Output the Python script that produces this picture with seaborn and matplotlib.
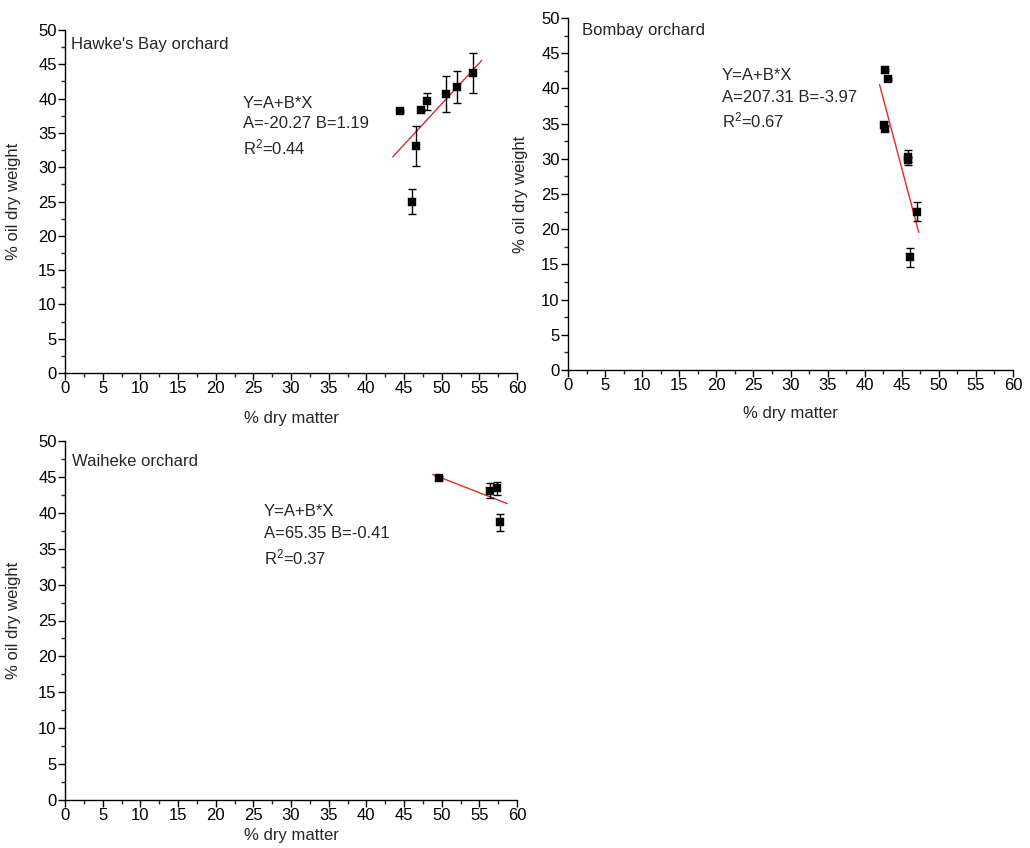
import numpy as np
import pandas as pd
import matplotlib
matplotlib.use("Agg")
import matplotlib.pyplot as plt
import seaborn as sns
from matplotlib.ticker import MultipleLocator

# Hawke's Bay orchard
hb_dm = [44.5, 47.2, 48.1, 46.6, 46.0, 50.6, 52.0, 54.2]
hb_oil = [38.2, 38.3, 39.6, 33.1, 25.0, 40.7, 41.7, 43.7]
hb_err = [0.15, 0.15, 1.2, 2.9, 1.85, 2.6, 2.3, 2.9]
hb_fit = (-20.27, 1.19, 0.44)
hb_fit_range = [43.5, 55.3]

# Bombay orchard
bo_dm = [42.7, 43.2, 42.6, 42.7, 45.9, 45.9, 47.0, 46.1]
bo_oil = [42.6, 41.3, 34.8, 34.3, 30.2, 29.9, 22.5, 16.0]
bo_err = [0.15, 0.15, 0.4, 0.4, 1.1, 0.4, 1.4, 1.4]
bo_fit = (207.31, -3.97, 0.67)
bo_fit_range = [42.0, 47.3]

# Waiheke orchard
wa_dm = [49.6, 56.4, 57.3, 57.8]
wa_oil = [44.8, 43.1, 43.4, 38.7]
wa_err = [0.3, 1.1, 0.9, 1.2]
wa_fit = (65.35, -0.41, 0.37)
wa_fit_range = [48.8, 58.7]

titles = ["Hawke's Bay orchard", "Bombay orchard", "Waiheke orchard"]
x_label = "% dry matter"
y_label = "% oil dry weight"

FS = 12

sns.set_style("ticks")
plt.rcParams["font.family"] = ["Liberation Sans", "DejaVu Sans"]
plt.rcParams["mathtext.default"] = "regular"
plt.rcParams["font.size"] = FS

W, H = 1030, 848
fig = plt.figure(figsize=(W / 100, H / 100), dpi=100)


def px_axes(left, right, top, bottom):
    return fig.add_axes([left / W, 1 - bottom / H, (right - left) / W, (bottom - top) / H])


panels = [
    dict(ax=px_axes(65, 517, 30, 373), dm=hb_dm, oil=hb_oil, err=hb_err, fit=hb_fit,
         rng=hb_fit_range, title=titles[0], title_px=(71, 45),
         stat_px=(243, [104, 124, 147]), xlab_top=411, ylab_right=21),
    dict(ax=px_axes(568, 1013, 18, 370), dm=bo_dm, oil=bo_oil, err=bo_err, fit=bo_fit,
         rng=bo_fit_range, title=titles[1], title_px=(582, 31),
         stat_px=(722, [76, 97, 120]), xlab_top=406, ylab_right=528),
    dict(ax=px_axes(65, 517, 441, 800), dm=wa_dm, oil=wa_oil, err=wa_err, fit=wa_fit,
         rng=wa_fit_range, title=titles[2], title_px=(72, 462),
         stat_px=(264, [511, 533, 557]), xlab_top=828, ylab_right=21),
]

for p in panels:
    ax = p["ax"]
    df = pd.DataFrame({"dm": p["dm"], "oil": p["oil"], "err": p["err"]})
    a, b, r2 = p["fit"]
    fit_df = pd.DataFrame({"dm": p["rng"]})
    fit_df["oil"] = a + b * fit_df["dm"]

    sns.lineplot(data=fit_df, x="dm", y="oil", ax=ax, color="#e8262a", linewidth=1.0, zorder=2)
    ax.errorbar(df["dm"], df["oil"], yerr=df["err"], fmt="none", ecolor="black",
                elinewidth=1.0, capsize=3, capthick=1.0, zorder=3)
    sns.scatterplot(data=df, x="dm", y="oil", ax=ax, marker="s", s=40, color="black",
                    edgecolor="black", linewidth=0.3, zorder=4)

    ax.set_xlim(0, 60)
    ax.set_ylim(0, 50)
    ax.xaxis.set_major_locator(MultipleLocator(5))
    ax.xaxis.set_minor_locator(MultipleLocator(2.5))
    ax.yaxis.set_major_locator(MultipleLocator(5))
    ax.yaxis.set_minor_locator(MultipleLocator(2.5))
    ax.tick_params(which="major", direction="out", length=5, width=1.0, labelsize=FS,
                   pad=1.0, colors="black")
    ax.tick_params(which="minor", direction="out", length=3, width=1.0)
    for s in ("top", "right"):
        ax.spines[s].set_visible(False)
    for s in ("left", "bottom"):
        ax.spines[s].set_linewidth(1.0)
        ax.spines[s].set_color("black")

    pos = ax.get_position()
    h_px = pos.height * H
    w_px = pos.width * W
    x0_px = pos.x0 * W
    y_bottom_px = (1 - pos.y0) * H

    ax.set_xlabel(x_label, fontsize=FS, va="top")
    ax.xaxis.set_label_coords(0.5, -(p["xlab_top"] - y_bottom_px) / h_px)
    ax.set_ylabel(y_label, fontsize=FS)
    ax.yaxis.set_label_coords((p["ylab_right"] - x0_px) / w_px, 0.5)

    tx, ty = p["title_px"]
    fig.text(tx / W, 1 - ty / H, p["title"], ha="left", va="center", fontsize=FS)

    sx, sys_ = p["stat_px"]
    lines = ["Y=A+B*X", f"A={a:.2f} B={b:.2f}", f"R$^2$={r2:.2f}"]
    for text, yy in zip(lines, sys_):
        fig.text(sx / W, 1 - yy / H, text, ha="left", va="center", fontsize=FS)

fig.savefig("out.png", dpi=100)
